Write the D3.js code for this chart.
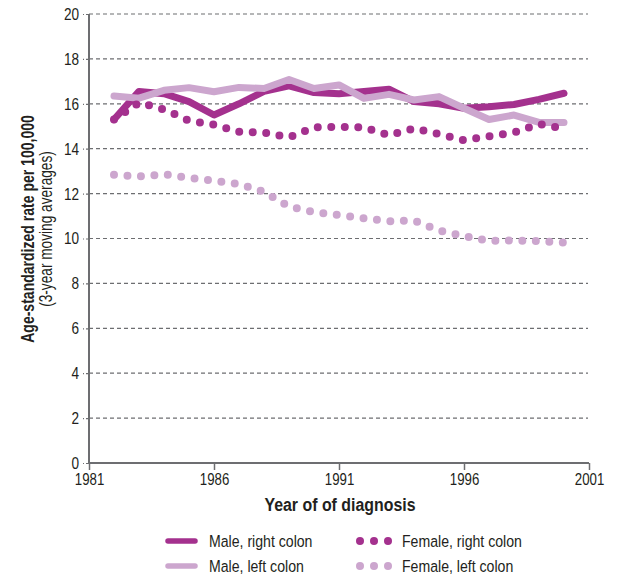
<!DOCTYPE html>
<html>
<head>
<meta charset="utf-8">
<script src="https://cdn.jsdelivr.net/npm/d3@7"></script>
<style>
  html, body { margin: 0; padding: 0; background: #fff; }
  svg { display: block; }
  text { font-family: "Liberation Sans", Arial, sans-serif; fill: #231f20; }
</style>
</head>
<body>
<svg id="chart" width="618" height="579"></svg>
<script>
const years = [1982,1983,1984,1985,1986,1987,1988,1989,1990,1991,1992,1993,1994,1995,1996,1997,1998,1999,2000];
const maleRight   = [15.3,16.55,16.45,16.1,15.5,16.0,16.55,16.8,16.5,16.45,16.55,16.65,16.1,16.0,15.8,15.87,15.97,16.2,16.47];
const maleLeft    = [16.35,16.25,16.6,16.72,16.54,16.73,16.68,17.08,16.68,16.84,16.24,16.42,16.17,16.32,15.8,15.3,15.5,15.17,15.17];
const femaleRight = [15.3,16.05,15.75,15.25,15.07,14.75,14.72,14.5,14.95,14.97,14.95,14.6,14.9,14.65,14.38,14.55,14.72,15.1,14.9];
const femaleLeft  = [12.84,12.76,12.86,12.7,12.58,12.42,12.08,11.42,11.18,11.04,10.9,10.77,10.8,10.35,10.11,9.9,9.91,9.88,9.82];
const xTicks = [1981,1986,1991,1996,2001];
const yTicks = [0,2,4,6,8,10,12,14,16,18,20];

const DARK = "#a4318e", LIGHT = "#cca6ce";
const series = {
  maleRight:   {name: "Male, right colon",   values: maleRight,   color: DARK,  dotted: false},
  maleLeft:    {name: "Male, left colon",    values: maleLeft,    color: LIGHT, dotted: false},
  femaleRight: {name: "Female, right colon", values: femaleRight, color: DARK,  dotted: true},
  femaleLeft:  {name: "Female, left colon",  values: femaleLeft,  color: LIGHT, dotted: true}
};
const drawOrder = ["maleRight", "maleLeft", "femaleLeft", "femaleRight"];

const svg = d3.select("#chart");
const x = d3.scaleLinear().domain([1981, 2001]).range([89, 589]);
const y = d3.scaleLinear().domain([0, 20]).range([463, 14]);

function ctext(parent, tx, ty, str, opts) {
  const sx = opts.sx || 0.83;
  const g = parent.append("g").attr("transform", `translate(${tx},${ty}) ${opts.rotate ? "rotate(" + opts.rotate + ")" : ""} scale(${sx},1)`);
  const t = g.append("text").attr("x", 0).attr("y", 0)
    .attr("font-size", opts.size).attr("text-anchor", opts.anchor || "start").text(str);
  if (opts.bold) t.attr("font-weight", "bold");
  return t;
}
function condenseTicks(sel, sx) {
  sel.selectAll(".tick text").each(function() {
    const t = d3.select(this);
    const xv = +(t.attr("x") || 0);
    t.attr("x", xv / sx).attr("transform", `scale(${sx},1)`);
  });
}

// gridlines
svg.append("g").selectAll("line").data(yTicks.filter(d => d > 0)).join("line")
  .attr("x1", x(1981)).attr("x2", x(2001) - 1)
  .attr("y1", d => y(d)).attr("y2", d => y(d))
  .attr("stroke", "#6d6e71").attr("stroke-width", 1.2).attr("stroke-dasharray", "4,3");

// y axis
const yAxis = svg.append("g").attr("transform", `translate(${x(1981)},0)`)
  .call(d3.axisLeft(y).tickValues(yTicks).tickSize(6).tickPadding(4).tickFormat(d3.format("d")));
yAxis.select(".domain").remove();
yAxis.selectAll(".tick line").attr("stroke", "#6d6e71").attr("stroke-width", 1.2).attr("stroke-dasharray", "3,2");
yAxis.selectAll(".tick text").attr("font-size", 17).attr("fill", "#231f20").attr("font-family", "Liberation Sans, Arial, sans-serif");
condenseTicks(yAxis, 0.8);

// x axis
const xAxis = svg.append("g").attr("transform", `translate(0,${y(0)})`)
  .call(d3.axisBottom(x).tickValues(xTicks).tickSize(7).tickPadding(3).tickFormat(d3.format("d")));
xAxis.select(".domain").remove();
xAxis.selectAll(".tick line").attr("stroke", "#6d6e71").attr("stroke-width", 1.5);
xAxis.selectAll(".tick text").attr("font-size", 17).attr("fill", "#231f20").attr("font-family", "Liberation Sans, Arial, sans-serif");
condenseTicks(xAxis, 0.78);

// axis lines
svg.append("line").attr("x1", x(1981)).attr("x2", x(1981)).attr("y1", y(20)).attr("y2", y(0) + 1)
  .attr("stroke", "#6d6e71").attr("stroke-width", 2);
svg.append("line").attr("x1", x(1981) - 1).attr("x2", x(2001)).attr("y1", y(0)).attr("y2", y(0))
  .attr("stroke", "#6d6e71").attr("stroke-width", 2);

// lines
const line = d3.line().x((d, i) => x(years[i])).y(d => y(d));
drawOrder.forEach(k => {
  const s = series[k];
  const p = svg.append("path").datum(s.values).attr("d", line)
    .attr("fill", "none").attr("stroke", s.color)
    .attr("stroke-linecap", "round").attr("stroke-linejoin", "round");
  if (s.dotted) {
    p.attr("stroke-width", 8).attr("stroke-dasharray", "0,13.5");
  } else {
    p.attr("stroke-width", 7);
  }
});

// axis titles
ctext(svg, 340, 511, "Year of of diagnosis", {size: 18.5, bold: true, anchor: "middle", sx: 0.86});
ctext(svg, 34, 229, "Age-standardized rate per 100,000", {size: 18, bold: true, anchor: "middle", rotate: -90, sx: 0.78});
ctext(svg, 52, 229, "(3-year moving averages)", {size: 18, anchor: "middle", rotate: -90, sx: 0.76});

// legend
const legendItems = [
  {k: "maleRight",   lx: 165, ly: 541},
  {k: "maleLeft",    lx: 165, ly: 566},
  {k: "femaleRight", lx: 360, ly: 541},
  {k: "femaleLeft",  lx: 360, ly: 566}
];
legendItems.forEach(it => {
  const s = series[it.k];
  const g = svg.append("g");
  if (s.dotted) {
    [0, 14, 28].forEach(dx => g.append("circle").attr("cx", it.lx + dx).attr("cy", it.ly).attr("r", 4).attr("fill", s.color));
    ctext(g, it.lx + 42, it.ly + 6, s.name, {size: 17, sx: 0.83});
  } else {
    g.append("line").attr("x1", it.lx + 3).attr("x2", it.lx + 30).attr("y1", it.ly).attr("y2", it.ly)
      .attr("stroke", s.color).attr("stroke-width", 5.5).attr("stroke-linecap", "round");
    ctext(g, it.lx + 44, it.ly + 6, s.name, {size: 17, sx: 0.83});
  }
});
</script>
</body>
</html>
